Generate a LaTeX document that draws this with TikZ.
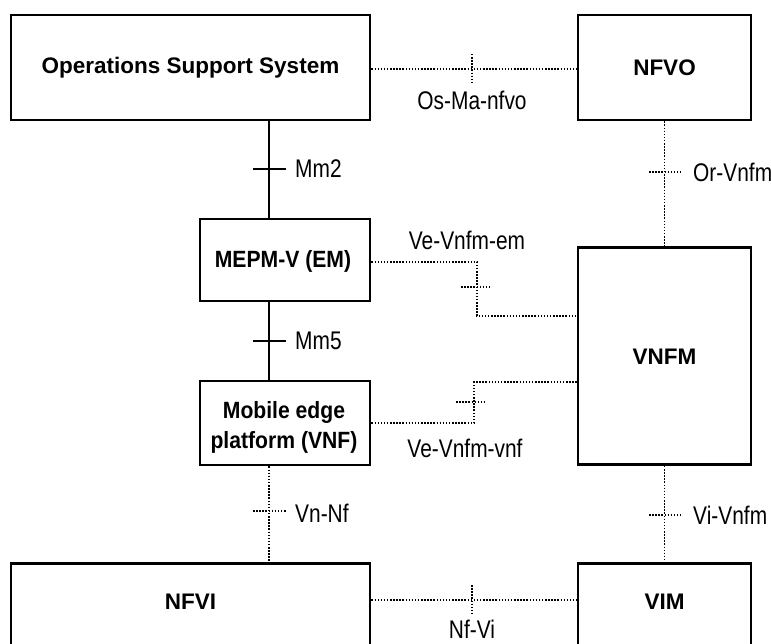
\documentclass[tikz,border=0pt]{standalone}
\usepackage{fontspec}
\setmainfont{Liberation Sans}
\newfontfamily\labfont[FakeStretch=0.82]{Liberation Sans}
\newfontfamily\nbfont[FakeStretch=0.9]{Liberation Sans}
\begin{document}
\begin{tikzpicture}[x=1pt,y=-1pt,
  box/.style={draw=black,line width=2.8pt,rectangle,inner sep=0pt,fill=white},
  boxtext/.style={font=\fontsize{22.5}{26}\selectfont\bfseries,inner sep=0pt},
  smalltext/.style={font=\nbfont\fontsize{23.5}{30}\selectfont\bfseries,inner sep=0pt,align=center},
  lab/.style={font=\labfont\fontsize{25.5}{28}\selectfont,inner sep=0pt},
  solidline/.style={line width=1.4pt},
  dotline/.style={line width=1.6pt,dash pattern=on 1.5pt off 1.6pt}]
\clip (0,0) rectangle (771,644);
\fill[white] (0,0) rectangle (771,644);
% boxes
\node[box,minimum width=359,minimum height=105] (oss) at (190.5,67.5) {};
\node[boxtext] at (190.5,68) {Operations Support System};
\node[box,minimum width=173,minimum height=105] (nfvo) at (664.5,67.5) {};
\node[boxtext] at (664.5,68) {NFVO};
\node[box,minimum width=170,minimum height=82] (mepm) at (285,260) {};
\node[smalltext] at (283,261) {MEPM-V (EM)};
\node[box,minimum width=170,minimum height=84] (mep) at (285,423) {};
\node[smalltext] at (284,427) {Mobile edge\\platform (VNF)};
\node[box,minimum width=173,minimum height=217] (vnfm) at (664.5,356) {};
\node[boxtext] at (664.5,357) {VNFM};
\node[box,minimum width=359,minimum height=120,anchor=north] (nfvi) at (190.5,562) {};
\node[boxtext] at (190.5,602) {NFVI};
\node[box,minimum width=173,minimum height=120,anchor=north] (vim) at (664.5,562) {};
\node[boxtext] at (664.5,602) {VIM};
% coordinates
\coordinate (cx) at (269,0);
\coordinate (rx) at (664.5,0);
% Os-Ma-nfvo
\draw[dotline] (oss.east |- 0,69) -- (nfvo.west |- 0,69);
\draw[dotline] (472,54) -- (472,84);
\node[lab] at (472,100) {Os-Ma-nfvo};
% Nf-Vi
\draw[dotline] (nfvi.east |- 0,600) -- (vim.west |- 0,600);
\draw[dotline] (472,585) -- (472,615);
\node[lab] at (472,629) {Nf-Vi};
% Mm2
\draw[solidline] (cx |- oss.south) -- (cx |- mepm.north);
\draw[solidline] (253,169) -- (286,169);
\node[lab,anchor=west] at (295,169) {Mm2};
% Mm5
\draw[solidline] (cx |- mepm.south) -- (cx |- mep.north);
\draw[solidline] (253,341) -- (286,341);
\node[lab,anchor=west] at (295,341) {Mm5};
% Vn-Nf
\draw[dotline] (cx |- mep.south) -- (cx |- nfvi.north);
\draw[dotline] (253,511) -- (286,511);
\node[lab,anchor=west] at (295,513) {Vn-Nf};
% Or-Vnfm
\draw[dotline] (rx |- nfvo.south) -- (rx |- vnfm.north);
\draw[dotline] (649,172) -- (681,172);
\node[lab,anchor=west] at (693,172) {Or-Vnfm};
% Vi-Vnfm
\draw[dotline] (rx |- vnfm.south) -- (rx |- vim.north);
\draw[dotline] (649,515) -- (681,515);
\node[lab,anchor=west] at (693,515) {Vi-Vnfm};
% Ve-Vnfm-em
\draw[dotline] (mepm.east |- 0,262) -- (477,262) -- (477,316) -- (vnfm.west |- 0,316);
\draw[dotline] (461,287) -- (492,287);
\node[lab] at (467,240) {Ve-Vnfm-em};
% Ve-Vnfm-vnf
\draw[dotline] (mep.east |- 0,423) -- (474,423) -- (474,382) -- (vnfm.west |- 0,382);
\draw[dotline] (456,402) -- (487,402);
\node[lab] at (465,448) {Ve-Vnfm-vnf};
\end{tikzpicture}
\end{document}
